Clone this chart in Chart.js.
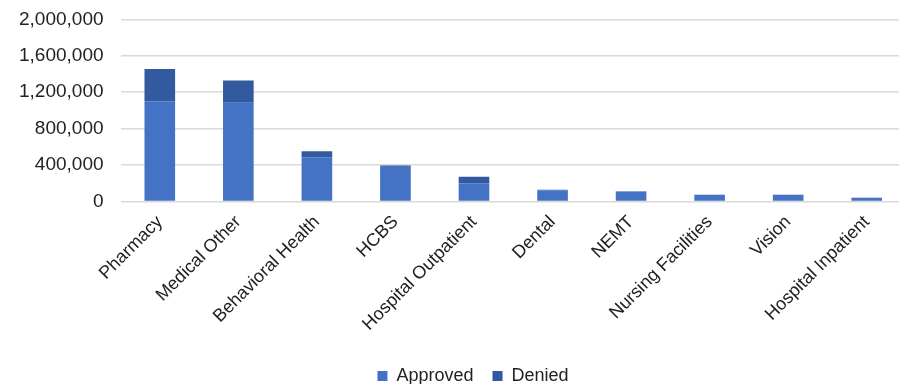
<!DOCTYPE html>
<html>
<head>
<meta charset="utf-8">
<script src="https://cdn.jsdelivr.net/npm/chart.js@4/dist/chart.umd.min.js"></script>
<style>
    html, body { margin: 0; padding: 0; background: #ffffff; overflow: hidden; }
    #wrap { position: relative; top: -9px; width: 906px; height: 393px; }
</style>
</head>
<body>
<div id="wrap"><canvas id="grafico"></canvas></div>
<script>
var CATEGORIAS = ['Pharmacy', 'Medical Other', 'Behavioral Health', 'HCBS', 'Hospital Outpatient',
    'Dental', 'NEMT', 'Nursing Facilities', 'Vision', 'Hospital Inpatient'];
var APROBADOS = [1100000, 1085000, 487000, 390000, 201000, 124000, 110000, 72000, 72000, 38000];
var DENEGADOS = [354000, 245000, 66000, 6000, 70000, 5000, 3000, 2000, 2000, 3000];
var TICKS_Y = [0, 400000, 800000, 1200000, 1600000, 2000000];

var FUENTE = 'Liberation Sans, Arial, sans-serif';

// mueve la leyenda para que quede donde la pone Excel
var moverLeyenda = {
    id: 'moverLeyenda',
    afterLayout: function (chart) {
        var ley = chart.legend;
        ley.left += 19;
        ley.right += 19;
        ley.top += 11;
        ley.bottom += 11;
    }
};

var GRAFICO = new Chart(document.getElementById('grafico'), {
    type: 'bar',
    data: {
        labels: CATEGORIAS,
        datasets: [
            {label: 'Approved', data: APROBADOS, backgroundColor: '#4472C4', barPercentage: 0.39, categoryPercentage: 1.0},
            {label: 'Denied', data: DENEGADOS, backgroundColor: '#335A9E', barPercentage: 0.39, categoryPercentage: 1.0}
        ]
    },
    plugins: [moverLeyenda],
    options: {
        responsive: true,
        maintainAspectRatio: false,
        animation: false,
        layout: {padding: {top: 2, right: 0, left: 2, bottom: 0}},
        plugins: {
            legend: {
                position: 'bottom',
                labels: {
                    font: {family: FUENTE, size: 18},
                    color: '#222222',
                    boxWidth: 10,
                    boxHeight: 10,
                    padding: 19
                }
            },
            tooltip: {enabled: false}
        },
        scales: {
            x: {
                stacked: true,
                grid: {display: false},
                border: {display: false},
                ticks: {
                    font: {family: FUENTE, size: 18},
                    color: '#222222',
                    maxRotation: 45,
                    minRotation: 45,
                    padding: 2
                }
            },
            y: {
                stacked: true,
                min: 0,
                max: 2000000,
                afterBuildTicks: function (eje) {
                    eje.ticks = TICKS_Y.map(function (v) { return {value: v}; });
                },
                grid: {color: '#D9D9D9', lineWidth: 1.5, drawTicks: false},
                border: {display: false},
                ticks: {
                    font: {family: FUENTE, size: 19},
                    color: '#222222',
                    padding: 17,
                    callback: function (v) { return v.toLocaleString('en-US'); }
                }
            }
        }
    }
});
</script>
</body>
</html>
